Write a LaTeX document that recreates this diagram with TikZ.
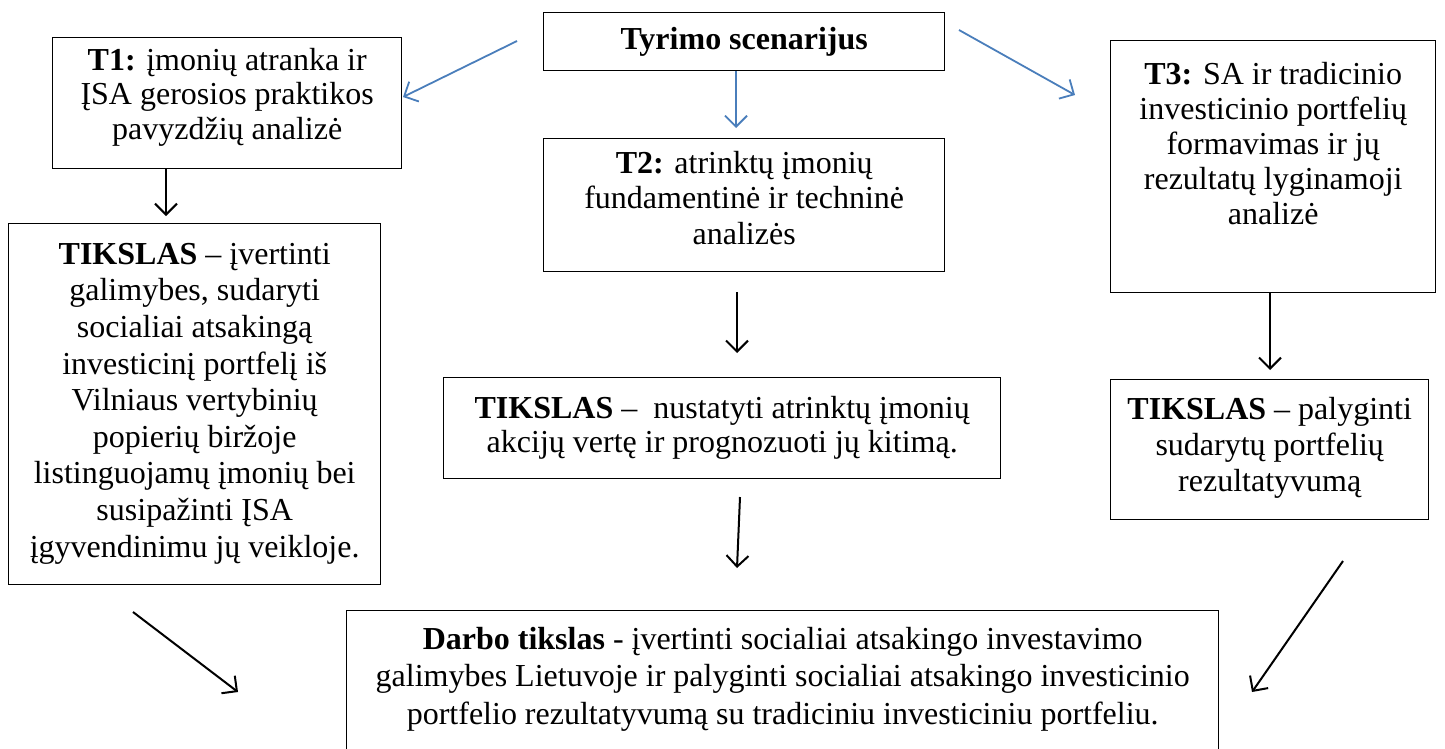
\documentclass[tikz,border=0pt]{standalone}
\usepackage{fontspec}
\setmainfont{Liberation Serif}
\usetikzlibrary{arrows.meta}
\begin{document}
\begin{tikzpicture}[x=1pt,y=-1pt,
  box/.style={draw=black, line width=1.4pt, rectangle, inner sep=0pt, anchor=north west},
  txt/.style={inner sep=0pt, align=center, font=\fontsize{32}{34}\selectfont},
  bluearr/.style={draw={rgb,255:red,74;green,126;blue,187}, line width=1.8pt, -{Straight Barb[length=11pt,width=22pt,line width=1.8pt]}},
  blackarr/.style={draw=black, line width=2pt, -{Straight Barb[length=11pt,width=22pt,line width=2pt]}}]
\useasboundingbox (0,0) rectangle (1445,748);
\clip (0,0) rectangle (1445,748);
% boxes
\node[box, minimum width=401pt, minimum height=58pt] (scen) at (543,12) {};
\node[txt, font=\fontsize{32}{34}\selectfont\bfseries] (scentxt) at (scen.center) {Tyrimo scenarijus};

\node[box, minimum width=349pt, minimum height=131pt] (t1) at (52,37) {};
\node[txt, anchor=north, font=\fontsize{32}{34.5}\selectfont] (t1txt) at ([yshift=-11pt]t1.north) {\textbf{T1:} įmonių atranka ir\\ ĮSA gerosios praktikos\\ pavyzdžių analizė};

\node[box, minimum width=401pt, minimum height=133pt] (t2) at (543,138) {};
\node[txt, anchor=north, font=\fontsize{32}{35.5}\selectfont] (t2txt) at ([yshift=-13pt]t2.north) {\textbf{T2:} atrinktų įmonių\\ fundamentinė ir techninė\\ analizės};

\node[box, minimum width=325pt, minimum height=252pt] (t3) at (1110,40) {};
\node[txt, anchor=north, font=\fontsize{32}{35}\selectfont] (t3txt) at ([yshift=-22pt]t3.north) {\textbf{T3:} SA ir tradicinio\\ investicinio portfelių\\ formavimas ir jų\\ rezultatų lyginamoji\\ analizė};

\node[box, minimum width=372pt, minimum height=361pt] (g1) at (8,223) {};
\node[txt, anchor=north, font=\fontsize{32}{36.6}\selectfont] (g1txt) at ([yshift=-20pt]g1.north) {\textbf{TIKSLAS} – įvertinti\\ galimybes, sudaryti\\ socialiai atsakingą\\ investicinį portfelį iš\\ Vilniaus vertybinių\\ popierių biržoje\\ listinguojamų įmonių bei\\ susipažinti ĮSA\\ įgyvendinimu jų veikloje.};

\node[box, minimum width=557pt, minimum height=101pt] (g2) at (443,377) {};
\node[txt] (g2txt) at (g2.center) {\textbf{TIKSLAS} –\ \ nustatyti atrinktų įmonių\\ akcijų vertę ir prognozuoti jų kitimą.};

\node[box, minimum width=318pt, minimum height=140pt] (g3) at (1110,379) {};
\node[txt, anchor=north, font=\fontsize{32}{36}\selectfont] (g3txt) at ([yshift=-18pt]g3.north) {\textbf{TIKSLAS} – palyginti\\ sudarytų portfelių\\ rezultatyvumą};

\node[box, minimum width=872pt, minimum height=160pt] (darbo) at (346,610) {};
\node[txt, anchor=north, font=\fontsize{32}{37.5}\selectfont] (darbotxt) at ([yshift=-17pt]darbo.north) {\textbf{Darbo tikslas} - įvertinti socialiai atsakingo investavimo\\ galimybes Lietuvoje ir palyginti socialiai atsakingo investicinio\\ portfelio rezultatyvumą su tradiciniu investiciniu portfeliu.};

% arrow coordinates
\coordinate (b1s) at (517,41);  \coordinate (b1e) at (403,97);
\coordinate (b2e) at (736,128);
\coordinate (b3s) at (959,30);  \coordinate (b3e) at (1075,95);
\coordinate (k1e) at (166,216);
\coordinate (k2s) at (737,292); \coordinate (k2e) at (737,353);
\coordinate (k3s) at (740,497); \coordinate (k3e) at (737,568);
\coordinate (k4e) at (1270,370);
\coordinate (k5s) at (133,612); \coordinate (k5e) at (238,692);
\coordinate (k6s) at (1343,561); \coordinate (k6e) at (1252,692);

\draw[bluearr] (b1s) -- (b1e);
\draw[bluearr] (scen.south -| b2e) -- (b2e);
\draw[bluearr] (b3s) -- (b3e);
\draw[blackarr] (t1.south -| k1e) -- (k1e);
\draw[blackarr] (k2s) -- (k2e);
\draw[blackarr] (k3s) -- (k3e);
\draw[blackarr] (t3.south -| k4e) -- (k4e);
\draw[blackarr] (k5s) -- (k5e);
\draw[blackarr] (k6s) -- (k6e);
\end{tikzpicture}
\end{document}
